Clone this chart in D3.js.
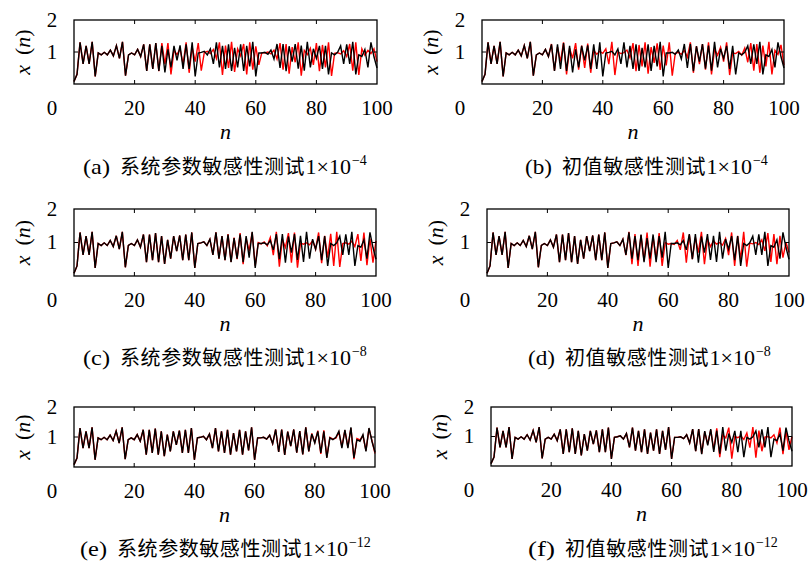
<!DOCTYPE html>
<html>
<head>
<meta charset="utf-8">
<script src="https://cdn.jsdelivr.net/npm/d3@7"></script>
<style>
  body { margin: 0; background: #fff; }
  text { font-family: "Liberation Serif", "DejaVu Serif", serif; fill: #000; }
  .cjk { font-family: "Noto Sans CJK SC", sans-serif; }
</style>
</head>
<body>
<div id="chart"></div>
<script>
// original sequence x(n), n = 0..100 (black line, same in every panel)
var base = [
  0.08, 0.30, 1.30, 0.63, 1.19, 0.63, 1.32, 0.24, 0.97, 0.91,
  0.99, 0.91, 1.06, 0.88, 1.20, 0.80, 1.32, 0.26, 0.91, 0.97,
  0.91, 1.08, 0.86, 1.24, 0.41, 1.24, 0.47, 1.28, 0.41, 1.19,
  0.36, 1.08, 0.52, 1.19, 0.74, 1.21, 0.47, 1.24, 0.47, 1.30,
  0.24, 0.97, 0.99, 1.02, 0.91, 1.10, 0.63, 1.30, 0.52, 1.19,
  0.47, 1.24, 0.41, 1.13, 0.52, 1.24, 0.41, 1.19, 0.55, 1.32,
  0.24, 0.97, 0.97, 0.99, 0.93, 1.06, 0.78, 1.25, 0.50, 1.25,
  0.40, 1.18, 0.70, 1.25, 0.48, 1.20, 0.42, 1.32, 0.52, 1.10,
  0.80, 1.19, 0.47, 1.19, 0.30, 0.97, 0.91, 0.99, 1.19, 0.63,
  1.24, 0.63, 1.32, 0.30, 0.91, 0.86, 1.08, 0.52, 1.30, 0.85, 0.50
];

// perturbed sequences (red line): equal to base before the start index
var redStart = [28, 23, 51, 45, 78, 68];
var redA = [
  0.40, 1.28, 0.62, 1.28, 0.30, 1.05, 0.92, 1.10, 0.62, 1.30,
  0.35, 1.15, 0.70, 1.28, 0.42, 0.98, 1.02, 0.95, 1.08, 0.80,
  1.30, 0.28, 1.20, 0.50, 1.32, 0.38, 1.10, 0.88, 1.25, 0.30,
  1.30, 0.45, 1.18, 0.60, 0.98, 0.97, 1.00, 0.94, 1.06, 0.78,
  1.28, 0.45, 1.25, 0.32, 1.15, 0.68, 1.30, 0.26, 1.05, 0.92,
  1.12, 0.60, 1.28, 0.40, 1.22, 0.52, 1.30, 0.25, 0.96, 0.98,
  0.94, 1.04, 0.86, 1.25, 0.42, 1.30, 0.28, 1.10, 0.90, 1.05,
  0.95, 1.10, 0.70
];
var redB = [
  1.25, 0.42, 1.15, 0.70, 1.30, 0.30, 1.12, 0.80, 1.28, 0.45,
  1.20, 0.50, 1.26, 0.35, 1.05, 0.93, 1.02, 0.96, 1.10, 0.62,
  1.32, 0.28, 1.00, 0.95, 0.98, 1.06, 0.82, 1.28, 0.40, 1.22,
  0.55, 1.30, 0.32, 1.15, 0.66, 1.27, 0.44, 1.20, 0.58, 1.30,
  0.26, 0.96, 0.99, 0.93, 1.05, 0.84, 1.30, 0.35, 1.18, 0.62,
  1.25, 0.45, 1.30, 0.30, 1.08, 0.90, 1.15, 0.70, 1.30, 0.28,
  0.97, 0.95, 1.02, 0.90, 1.12, 0.68, 1.28, 0.42, 1.25, 0.35,
  1.20, 0.55, 1.32, 0.30, 1.05, 0.92, 1.22, 0.58
];
var redC = [
  1.25, 0.42, 1.15, 0.50, 1.28, 0.35, 1.12, 0.75, 1.30, 0.30,
  1.00, 0.96, 1.02, 0.90, 1.15, 0.62, 1.32, 0.28, 1.10, 0.85,
  1.28, 0.40, 1.30, 0.25, 0.98, 0.95, 0.99, 0.93, 1.05, 0.80,
  1.30, 0.38, 1.20, 0.55, 1.26, 0.30, 1.32, 0.27, 0.97, 0.99,
  0.95, 1.04, 0.88, 1.25, 0.45, 1.30, 0.32, 1.12, 0.40, 1.05
];
var redD = [
  1.10, 0.62, 1.32, 0.35, 1.25, 0.30, 1.22, 0.45, 1.30, 0.28,
  1.18, 0.52, 1.28, 0.30, 1.00, 0.95, 0.97, 0.94, 1.06, 0.78,
  1.30, 0.40, 1.24, 0.50, 1.15, 0.70, 1.32, 0.35, 1.10, 0.88,
  1.05, 0.95, 1.00, 0.92, 1.12, 0.62, 1.30, 0.30, 1.20, 0.50,
  1.32, 0.28, 0.98, 0.96, 1.00, 0.94, 1.08, 0.75, 1.28, 0.42,
  1.25, 0.35, 1.20, 0.55, 1.00, 0.70
];
var redE = [
  0.52, 1.12, 0.82, 1.21, 0.44, 1.22, 0.33, 0.99, 0.93, 0.96,
  1.16, 0.68, 1.22, 0.66, 1.30, 0.26, 0.95, 0.90, 1.04, 0.55,
  1.28, 0.88, 0.45
];
var redF = [
  0.50, 1.25, 0.42, 1.16, 0.74, 1.22, 0.55, 1.28, 0.30, 1.05,
  0.95, 1.30, 0.25, 1.00, 0.96, 1.02, 0.90, 1.12, 0.62, 1.32,
  0.28, 1.20, 0.50, 0.98, 1.00, 0.95, 1.06, 0.78, 1.30, 0.40,
  1.18, 0.55, 1.00
];
var redTails = [redA, redB, redC, redD, redE, redF];

var letters = ['a', 'b', 'c', 'd', 'e', 'f'];
var captions = ['系统参数敏感性测试', '初值敏感性测试', '系统参数敏感性测试',
                '初值敏感性测试', '系统参数敏感性测试', '初值敏感性测试'];
var exponents = ['\u22124', '\u22124', '\u22128', '\u22128', '\u221212', '\u221212'];
var xTicks = [0, 20, 40, 60, 80, 100];
var yTicks = [1, 2];

// panel frames (pixels)
var frames = [
  {left: 74,  right: 377, top: 20,  bottom: 84,  capX: 83,  capY: 174},
  {left: 482, right: 784, top: 20,  bottom: 84,  capX: 525, capY: 174},
  {left: 74,  right: 376, top: 209, bottom: 276, capX: 83,  capY: 365},
  {left: 487, right: 789, top: 209, bottom: 276, capX: 528, capY: 365},
  {left: 74,  right: 375, top: 407, bottom: 467, capX: 80,  capY: 556},
  {left: 491, right: 792, top: 407, bottom: 466, capX: 528, capY: 556}
];
var cjkStep = 20.5;

var svg = d3.select('#chart').append('svg')
    .attr('width', 810)
    .attr('height', 566);

frames.forEach(function(f, i) {
    var x = d3.scaleLinear().domain([0, 100]).range([f.left, f.right]);
    var y = d3.scaleLinear().domain([0, 2]).range([f.bottom, f.top]);

    var red = base.slice(0, redStart[i]).concat(redTails[i]);
    var line = d3.line()
        .x(function(d, n) { return x(n); })
        .y(function(d) { return y(d); });

    var g = svg.append('g');

    g.append('path')
        .attr('d', line(red))
        .attr('fill', 'none')
        .attr('stroke', '#ff0000')
        .attr('stroke-width', 1.4);
    g.append('path')
        .attr('d', line(base))
        .attr('fill', 'none')
        .attr('stroke', '#000')
        .attr('stroke-width', 1.4);

    // frame with inner ticks on all sides
    g.append('rect')
        .attr('x', f.left).attr('y', f.top)
        .attr('width', f.right - f.left).attr('height', f.bottom - f.top)
        .attr('fill', 'none').attr('stroke', '#000').attr('stroke-width', 1.3);

    var inner = xTicks.filter(function(t) { return t > 0 && t < 100; });
    g.selectAll('.tb').data(inner).enter().append('path')
        .attr('d', function(t) {
            return 'M' + x(t) + ',' + f.bottom + 'v-4M' + x(t) + ',' + f.top + 'v4';
        })
        .attr('stroke', '#000').attr('stroke-width', 1);
    g.append('path')
        .attr('d', 'M' + f.left + ',' + y(1) + 'h4M' + f.right + ',' + y(1) + 'h-4')
        .attr('stroke', '#000').attr('stroke-width', 1);

    // tick labels
    g.selectAll('.xl').data(xTicks).enter().append('text')
        .attr('x', function(t) { return t === 0 ? f.left - 22 : x(t); })
        .attr('y', f.bottom + 31)
        .attr('text-anchor', 'middle')
        .attr('font-size', 21)
        .text(function(t) { return t; });
    g.selectAll('.yl').data(yTicks).enter().append('text')
        .attr('x', f.left - 22)
        .attr('y', function(t) { return y(t) + 2; })
        .attr('dominant-baseline', 'middle')
        .attr('text-anchor', 'middle')
        .attr('font-size', 21)
        .text(function(t) { return t; });

    // axis titles
    g.append('text')
        .attr('x', (f.left + f.right) / 2)
        .attr('y', f.bottom + 55)
        .attr('text-anchor', 'middle')
        .attr('font-size', 22)
        .attr('font-style', 'italic')
        .text('n');
    var yt = g.append('text')
        .attr('transform', 'translate(' + (f.left - 49) + ',' + ((f.top + f.bottom) / 2) + ') rotate(-90)')
        .attr('text-anchor', 'middle')
        .attr('dominant-baseline', 'middle')
        .attr('font-size', 22);
    yt.append('tspan').attr('font-style', 'italic').text('x');
    yt.append('tspan').text('\u2009 (');
    yt.append('tspan').attr('font-style', 'italic').text('n');
    yt.append('tspan').text(')');

    // caption: label, Chinese text, 1×10^exp placed in sequence
    var cjkX = f.capX + 37;
    var cjkW = captions[i].length * cjkStep;
    g.append('text')
        .attr('x', f.capX).attr('y', f.capY)
        .attr('font-size', 22)
        .attr('textLength', 27)
        .attr('lengthAdjust', 'spacingAndGlyphs')
        .text('(' + letters[i] + ')');
    g.append('text')
        .attr('class', 'cjk')
        .attr('x', cjkX).attr('y', f.capY)
        .attr('font-size', 20)
        .attr('textLength', cjkW)
        .attr('lengthAdjust', 'spacing')
        .text(captions[i]);
    var num = g.append('text')
        .attr('x', cjkX + cjkW + 1).attr('y', f.capY)
        .attr('font-size', 22);
    num.append('tspan').text('1\u00d710');
    num.append('tspan').attr('font-size', 14).attr('dy', -9).attr('dx', 1).text(exponents[i]);
});
</script>
</body>
</html>
